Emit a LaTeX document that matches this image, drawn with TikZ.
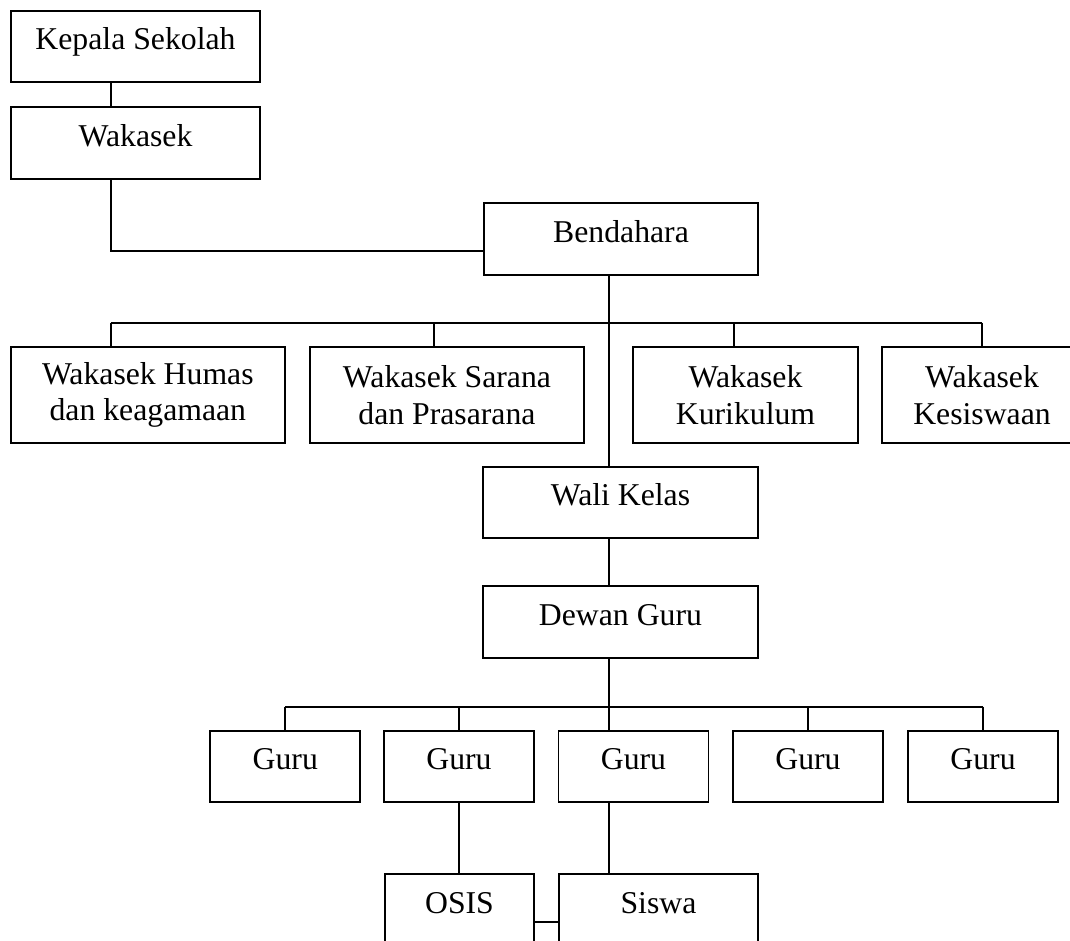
\documentclass[tikz,border=0pt]{standalone}
\usepackage{fontspec}
\setmainfont{Liberation Serif}
\tikzset{box/.style={draw,line width=1.3pt,inner sep=0pt,align=center}}
\tikzset{sbox/.style={box,text height=16pt,text depth=11pt}}
\tikzset{size/.style 2 args={minimum width=#1*0.75,minimum height=#2*0.75}}
\tikzset{link/.style={draw,line width=1.3pt}}
\tikzset{font={\fontsize{23.8pt}{27.5pt}\selectfont}}

\begin{document}
\begin{tikzpicture}[x=0.75pt,y=-0.75pt]
        \useasboundingbox (0,0) rectangle (1070,941);
        % pimpinan
        \node[sbox,size={249}{71}] (kepala) at (135.5,46.5) {Kepala Sekolah};
        \node[sbox,size={249}{72}] (wakasek) at (135.5,143) {Wakasek};
        \node[sbox,size={274}{72}] (bendahara) at (621,239) {Bendahara};
        % para wakasek
        \node[box,size={273.7}{96.3}] (humas) at (147.85,394.85) {Wakasek Humas\\dan keagamaan};
        \node[box,size={274}{96.3}] (sarana) at (447,394.85) {Wakasek Sarana\\dan Prasarana};
        \node[box,size={225}{96.3}] (kurikulum) at (745.5,394.85) {Wakasek\\Kurikulum};
        \node[box,size={200}{96.3}] (kesiswaan) at (982,394.85) {Wakasek\\Kesiswaan};
        \node[sbox,size={275}{71}] (wali) at (620.5,502.5) {Wali Kelas};
        \node[sbox,size={275}{72}] (dewan) at (620.5,622) {Dewan Guru};
        % guru
        \foreach \i\x in {1/285.3, 2/459, 3/633.5, 4/808, 5/983}{
            \node[sbox,size={150}{71}] (guru\i) at (\x,766.2) {Guru};
        }
        \node[sbox,size={149}{72}] (osis) at (459.5,910) {OSIS};
        \node[sbox,size={199}{72}] (siswa) at (658.5,910) {Siswa};

        % titik bantu
        \coordinate (jA) at (110.7,250.7);
        \coordinate (jB) at (609,322.7);
        \coordinate (jG) at (609,706.7);
        \coordinate (jS) at (0,921.7);
        \foreach \n\x in {humas/110.7, sarana/434, kurikulum/734, kesiswaan/982}{
            \coordinate (d\n) at (\x,322.7);
            \path[link] (d\n) -- (d\n |- \n.north);
        }
        \foreach \n\x in {guru1/285.3, guru2/459, guru3/609, guru4/808, guru5/983}{
            \coordinate (d\n) at (\x,706.7);
            \path[link] (d\n) -- (d\n |- \n.north);
        }

        % garis
        \path[link] (kepala.south -| jA) -- (wakasek.north -| jA);
        \path[link] (wakasek.south -| jA) -- (jA) -- (jA -| bendahara.west);
        \path[link] (bendahara.south -| jB) -- (wali.north -| jB);
        \path[link] (dhumas) -- (dkesiswaan);
        \path[link] (wali.south -| jB) -- (dewan.north -| jB);
        \path[link] (dewan.south -| jG) -- (jG);
        \path[link] (dguru1) -- (dguru5);
        \path[link] (guru2.south) -- (osis.north -| guru2.south);
        \path[link] (guru3.south -| jG) -- (siswa.north -| jG);
        \path[link] (osis.east |- jS) -- (siswa.west |- jS);
    \end{tikzpicture}
\end{document}
